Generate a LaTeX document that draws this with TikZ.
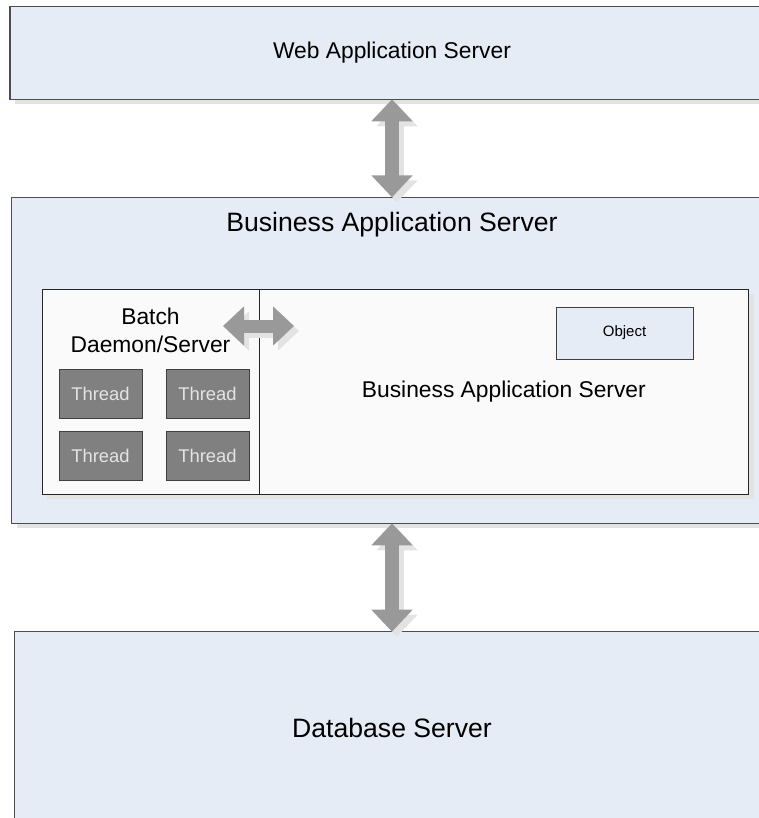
\documentclass[tikz,border=0pt]{standalone}
\usepackage{fontspec}
\setmainfont{Liberation Sans}
\usetikzlibrary{arrows.meta,shadows}
\definecolor{boxblue}{HTML}{E6ECF6}
\definecolor{innerfill}{HTML}{FAFAFA}
\definecolor{edgegray}{HTML}{4D4D4D}
\definecolor{threadfill}{HTML}{808080}
\definecolor{threadtext}{HTML}{E4E4E4}
\definecolor{arrowgray}{HTML}{999999}
\definecolor{shadowgray}{HTML}{E3E3E3}
\begin{document}
\begin{tikzpicture}[x=1pt,y=-1pt,
  every node/.style={inner sep=0pt, outer sep=0pt},
  boxshadow/.style={drop shadow={shadow xshift=5pt, shadow yshift=-5pt, fill=shadowgray, opacity=1, draw=none}},
  outerbox/.style={rectangle, draw=edgegray, line width=1.2pt, fill=boxblue, anchor=north west, boxshadow},
  innerbox/.style={rectangle, draw=black!85, line width=1pt, fill=innerfill, anchor=north west, boxshadow},
  threadbox/.style={rectangle, draw=black!75, line width=0.8pt, fill=threadfill, text=threadtext,
    minimum width=83, minimum height=49, anchor=north west, font=\fontsize{18.4}{20}\selectfont},
  objbox/.style={rectangle, draw=black!75, line width=0.8pt, fill=boxblue, anchor=north west,
    font=\fontsize{15}{17}\selectfont},
  midfont/.style={font=\fontsize{22.8}{28}\selectfont},
  bigfont/.style={font=\fontsize{26.6}{30}\selectfont},
  blockarrow/.style={draw=arrowgray, line width=14pt, line cap=butt,
    {Triangle[width=40pt,length=22pt]}-{Triangle[width=40pt,length=22pt]}},
  blockshadow/.style={blockarrow, draw=shadowgray},
  smallarrow/.style={draw=arrowgray, line width=13pt, line cap=butt,
    {Triangle[width=38pt,length=21pt]}-{Triangle[width=38pt,length=21pt]}},
  smallshadow/.style={smallarrow, draw=shadowgray}
]
\useasboundingbox (0,0) rectangle (759,818);
\clip (0,0) rectangle (759,818);

% outer boxes
\node[outerbox, midfont, minimum width=764, minimum height=92.8] (web) at (10,6.5) {Web Application Server};
\node[outerbox, minimum width=760.6, minimum height=326] (bas) at (11.7,197.3) {};
\node[bigfont] (bastitle) at (392,225) {Business Application Server};
\node[outerbox, bigfont, minimum width=754.6, minimum height=193] (db) at (14.7,631.7) {Database Server};

% inner boxes
\node[innerbox, minimum width=217, minimum height=205] (batch) at (42,289) {};
\node[innerbox, midfont, minimum width=489.7, minimum height=205] (basin) at (259,289) {Business Application Server};
\node[midfont, align=center] (batchlbl) at (150.5,330) {Batch\\Daemon/Server};

% threads
\node[threadbox] (t1) at (59,369) {Thread};
\node[threadbox] (t2) at (166,369) {Thread};
\node[threadbox] (t3) at (59,431) {Thread};
\node[threadbox] (t4) at (166,431) {Thread};

% object
\node[objbox, minimum width=137, minimum height=52] (obj) at (556,307) {Object};

% connectors
\coordinate (ha1) at (223,326);
\coordinate (ha2) at (294,326);
\draw[blockshadow] ([shift={(5,5)}]web.south) -- ([shift={(5,5)}]bas.north);
\draw[blockarrow] (web.south) -- (bas.north);
\draw[blockshadow] ([shift={(5,5)}]bas.south) -- ([shift={(5,5)}]db.north);
\draw[blockarrow] (bas.south) -- (db.north);
\draw[smallshadow] ([shift={(5,5)}]ha1) -- ([shift={(5,5)}]ha2);
\draw[smallarrow] (ha1) -- (ha2);
\end{tikzpicture}
\end{document}
